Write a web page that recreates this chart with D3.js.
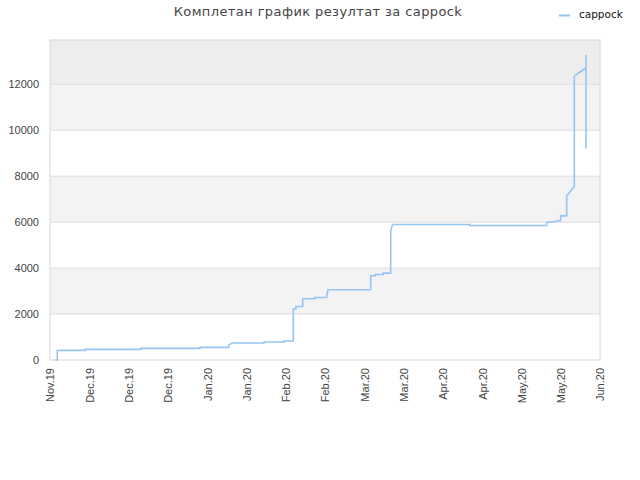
<!DOCTYPE html>
<html>
<head>
<meta charset="utf-8">
<script src="https://cdn.jsdelivr.net/npm/d3@7"></script>
<style>
  body { margin: 0; background: #fff; }
  svg { font-family: "DejaVu Sans", sans-serif; }
</style>
</head>
<body>
<svg id="chart" width="640" height="480"></svg>
<script>
// podatki
var xLabels = ["Nov.19","Dec.19","Dec.19","Dec.19","Jan.20","Jan.20","Feb.20","Feb.20",
               "Mar.20","Mar.20","Apr.20","Apr.20","May.20","May.20","Jun.20"];
var yTicks = [0, 2000, 4000, 6000, 8000, 10000, 12000];

// pozicija na x osi (v enotah oznak) in vrednost
var xPos = [0.135, 0.186, 0.186, 0.891, 0.891, 2.316, 2.316, 3.818, 3.818,
            4.549, 4.549, 4.595, 4.651, 5.447, 5.447, 5.956, 5.956,
            6.193, 6.193, 6.262, 6.262, 6.432, 6.432, 6.745, 6.745,
            7.043, 7.043, 7.064, 7.076, 8.163, 8.163, 8.281, 8.281, 8.484, 8.484,
            8.672, 8.672, 8.705, 8.731, 10.69, 10.69, 12.643, 12.643, 12.77, 12.94,
            13.0, 13.0, 13.152, 13.152, 13.346, 13.346, 13.643, 13.643, 13.643];
var values = [0, 0, 417, 417, 461, 461, 504, 504, 548,
              548, 650, 700, 739, 739, 783, 783, 826,
              826, 2217, 2217, 2330, 2330, 2665, 2665, 2722,
              2722, 2796, 2950, 3057, 3057, 3665, 3665, 3722, 3722, 3783,
              3783, 5591, 5839, 5896, 5896, 5852, 5852, 5983, 6000, 6060,
              6060, 6274, 6274, 7143, 7548, 12361, 12722, 13274, 9204];

var series = "cappock";
var title = "Комплетан график резултат за cappock";

// --------------------------------------------------------------------------

var svg = d3.select("#chart");
var margin = {top: 40, right: 40, bottom: 120, left: 50};
var width = 640 - margin.left - margin.right;
var height = 480 - margin.top - margin.bottom;

var x = d3.scaleLinear().domain([0, xLabels.length - 1]).range([0, width]);
var y = d3.scaleLinear().domain([0, 13930]).range([height, 0]);

var g = svg.append("g").attr("transform", `translate(${margin.left},${margin.top})`);

// pasovi ozadja
var bands = [[2000, 4000, "#f3f3f3"], [6000, 8000, "#f3f3f3"], [10000, 12000, "#f3f3f3"], [12000, 13930, "#ededed"]];
g.selectAll("rect.band")
  .data(bands)
  .enter().append("rect")
    .attr("class", "band")
    .attr("x", 0)
    .attr("width", width)
    .attr("y", d => y(d[1]))
    .attr("height", d => y(d[0]) - y(d[1]))
    .attr("fill", d => d[2]);

// mreža
g.selectAll("line.grid")
  .data(yTicks.slice(1))
  .enter().append("line")
    .attr("x1", 0).attr("x2", width)
    .attr("y1", d => y(d)).attr("y2", d => y(d))
    .attr("stroke", "#dedede");

g.append("rect")
  .attr("width", width).attr("height", height)
  .attr("fill", "none").attr("stroke", "#d8d8d8");

// osi
var yAxis = g.append("g")
  .call(d3.axisLeft(y).tickValues(yTicks).tickFormat(d3.format("d")).tickSize(0).tickPadding(11));
yAxis.select(".domain").remove();
yAxis.selectAll("text").attr("fill", "#444").attr("font-size", "11px");

var xAxis = g.append("g")
  .attr("transform", `translate(0,${height})`)
  .call(d3.axisBottom(x).tickValues(d3.range(xLabels.length)).tickFormat(i => xLabels[i]).tickSize(0));
xAxis.select(".domain").remove();
xAxis.selectAll("text")
  .attr("fill", "#444")
  .attr("font-size", "11px")
  .attr("transform", "rotate(-90)")
  .attr("text-anchor", "end")
  .attr("x", -8)
  .attr("y", 0)
  .attr("dy", "0.35em");

// črta
var line = d3.line()
  .x((d, i) => x(xPos[i]))
  .y(d => y(d));

g.append("path")
  .datum(values)
  .attr("fill", "none")
  .attr("stroke", "#94c5f4")
  .attr("stroke-width", 1.6)
  .attr("d", line);

// naslov
svg.append("text")
  .attr("x", 318)
  .attr("y", 16)
  .attr("text-anchor", "middle")
  .attr("font-size", "13px")
  .attr("letter-spacing", "0.4px")
  .attr("fill", "#444")
  .text(title);

// legenda
svg.append("line")
  .attr("x1", 559).attr("x2", 570)
  .attr("y1", 15.5).attr("y2", 15.5)
  .attr("stroke", "#94c5f4").attr("stroke-width", 2);
svg.append("text")
  .attr("x", 579)
  .attr("y", 14.5)
  .attr("dy", "0.35em")
  .attr("font-size", "10.5px")
  .attr("fill", "#111")
  .text(series);
</script>
</body>
</html>
